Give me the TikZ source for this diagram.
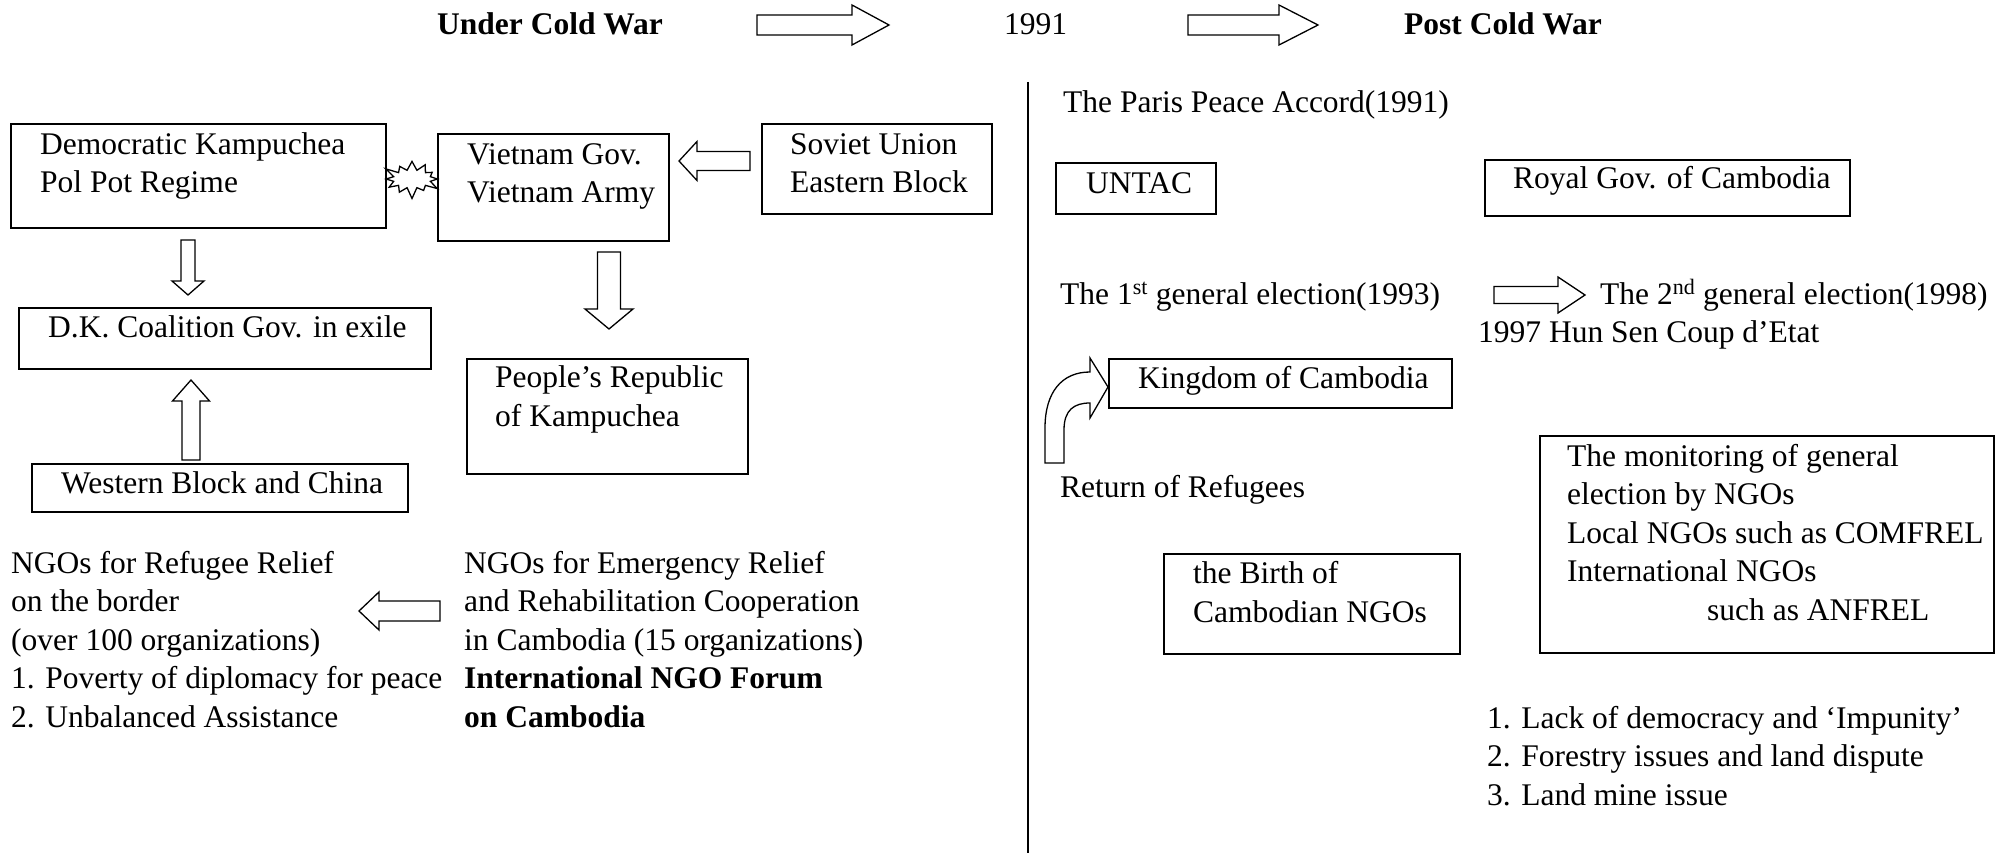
\documentclass[tikz,border=0pt]{standalone}
\usepackage{fontspec}
\setmainfont{Liberation Serif}
\usetikzlibrary{shapes.symbols}
\newcommand{\blockarrow}[7]{\draw[barrow, shift={(#1,#2)}, rotate=#3] (0,0) -- (-#7,#6) -- (-#7,#5) -- (-#4,#5) -- (-#4,-#5) -- (-#7,-#5) -- (-#7,-#6) -- cycle;}
\begin{document}
\begin{tikzpicture}[x=1pt,y=-1pt,
  every node/.style={font=\fontsize{31.5}{38.5}\selectfont},
  box/.style={draw, line width=1.6pt, anchor=north west, inner sep=0pt},
  txt/.style={anchor=base west, inner sep=0pt, align=left},
  barrow/.style={draw, line width=1.3pt, fill=white, line join=miter},
]
\useasboundingbox (0,0) rectangle (2008,853);

% header
\node[txt] (tUnder) at (437,35) {\textbf{Under Cold War}};
\node[txt] (t1991) at (1004,35) {1991};
\node[txt] (tPost) at (1404,35) {\textbf{Post Cold War}};
\blockarrow{889}{25}{0}{132}{10}{20}{37}
\blockarrow{1318}{25}{0}{130}{10}{20}{39}

% divider
\coordinate (dtop) at (1028,82);
\coordinate (dbot) at (1028,853);
\draw[line width=1.5pt] (dtop) -- (dbot);

% left boxes
\node[box, minimum width=375pt, minimum height=104pt] (dk) at (10,123) {};
\node[box, minimum width=231pt, minimum height=107pt] (viet) at (437,133) {};
\node[box, minimum width=230pt, minimum height=90pt] (sov) at (761,123) {};
\node[box, minimum width=412pt, minimum height=61pt] (dkcg) at (18,307) {};
\node[box, minimum width=281pt, minimum height=115pt] (prk) at (466,358) {};
\node[box, minimum width=376pt, minimum height=48pt] (west) at (31,463) {};

% multi-line texts: base = baseline of last line
\node[txt] (dkT) at (40,193) {Democratic Kampuchea\\Pol Pot Regime};
\node[txt] (vietT) at (467,203) {Vietnam Gov.\\Vietnam Army};
\node[txt] (sovT) at (790,193) {Soviet Union\\Eastern Block};
\node[txt] (dkcgT) at (48,337) {D.K. Coalition Gov. in exile};
\node[txt] (prkT) at (495,426) {People’s Republic\\of Kampuchea};
\node[txt] (westT) at (61,493) {Western Block and China};

\node[draw, line width=1.3pt, starburst, starburst points=12, starburst point height=12pt,
  minimum width=62pt, minimum height=42pt, inner sep=0pt] (clash) at (412,179) {};

\blockarrow{679}{161}{180}{71}{9.5}{19.5}{18}
\blockarrow{188}{295}{-90}{55}{7}{16}{14}
\blockarrow{191}{380}{90}{80}{9}{18.5}{21}
\blockarrow{609}{329}{-90}{77}{11.5}{24}{20}
\blockarrow{359}{611}{180}{81}{10}{19}{20}

\node[txt] (ngoL) at (11,727) {NGOs for Refugee Relief\\on the border\\(over 100 organizations)\\1. Poverty of diplomacy for peace\\2. Unbalanced Assistance};
\node[txt] (ngoR) at (464,727) {NGOs for Emergency Relief\\and Rehabilitation Cooperation\\in Cambodia (15 organizations)\\\textbf{International NGO Forum}\\\textbf{on Cambodia}};

% right side
\node[txt] (paris) at (1063,113) {The Paris Peace Accord(1991)};
\node[box, minimum width=160pt, minimum height=51pt] (untac) at (1055,162) {};
\node[txt] (untacT) at (1086,194) {UNTAC};
\node[box, minimum width=365pt, minimum height=56pt] (royal) at (1484,159) {};
\node[txt] (royalT) at (1513,189) {Royal Gov. of Cambodia};

\node[txt] (el1) at (1060,304) {The 1\textsuperscript{st} general election(1993)};
\blockarrow{1585}{295}{0}{91}{8.5}{18}{27}
\node[txt] (el2) at (1600,304) {The 2\textsuperscript{nd} general election(1998)};
\node[txt] (coup) at (1478,342) {1997 Hun Sen Coup d’Etat};

\node[box, minimum width=343pt, minimum height=49pt] (kingdom) at (1108,358) {};
\node[txt] (kingdomT) at (1138,388) {Kingdom of Cambodia};
\draw[barrow] (1045,463) -- (1045,428) .. controls (1045,392) and (1062,372) .. (1090,372)
  -- (1090,358) -- (kingdom.west |- 0,387) -- (1090,418) -- (1090,403)
  .. controls (1074,403) and (1064,410) .. (1064,430) -- (1064,463) -- cycle;
\node[txt] (ret) at (1060,497) {Return of Refugees};

\node[box, minimum width=454pt, minimum height=217pt] (mon) at (1539,435) {};
\node[txt] (monT) at (1567,620) {The monitoring of general\\election by NGOs\\Local NGOs such as COMFREL\\International NGOs\\\hspace*{140pt}such as ANFREL};
\node[box, minimum width=296pt, minimum height=100pt] (birth) at (1163,553) {};
\node[txt] (birthT) at (1193,622) {the Birth of\\Cambodian NGOs};

\node[txt] (issues) at (1487,805) {1. Lack of democracy and ‘Impunity’\\2. Forestry issues and land dispute\\3. Land mine issue};
\end{tikzpicture}
\end{document}
